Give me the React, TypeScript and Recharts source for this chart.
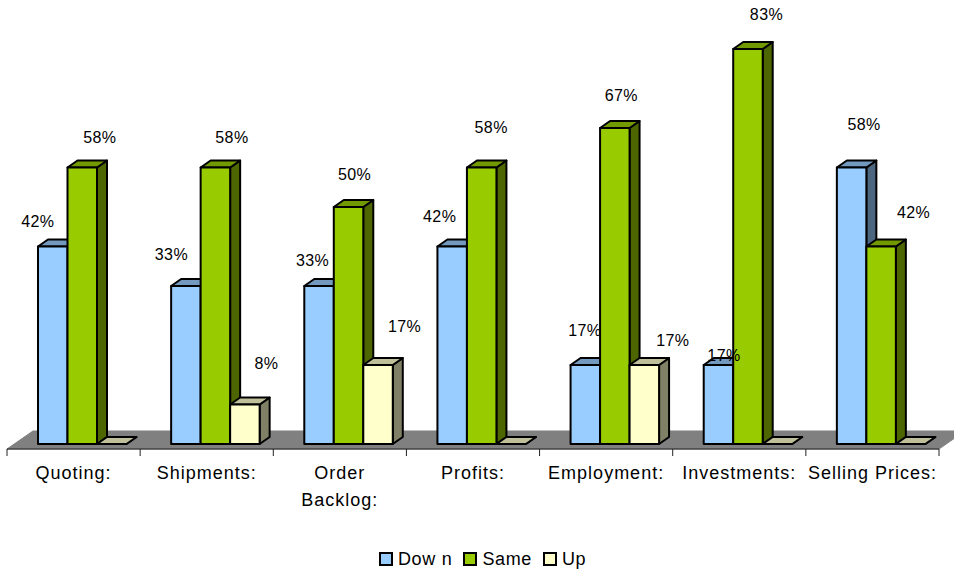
import React from 'react'
import { BarChart, Bar, XAxis, YAxis, Legend, LabelList, ReferenceArea } from 'recharts'

const categories = ['Quoting:', 'Shipments:', 'Order\nBacklog:', 'Profits:', 'Employment:', 'Investments:', 'Selling Prices:']
const downValues = [41.67, 33.33, 33.33, 41.67, 16.67, 16.67, 58.33]
const sameValues = [58.33, 58.33, 50, 58.33, 66.67, 83.33, 41.67]
const upValues = [0, 8.33, 16.67, 0, 16.67, 0, 0]

// hand placed label offsets from the top centre of each bar, the source chart scatters them
const downNudges = [[-15, -25], [-14.5, -32], [-6.5, -26], [-12.5, -30], [-0.5, -34], [5.5, -9], [12.5, -43]]
const sameNudges = [[17.5, -30], [16.5, -30], [6, -32], [9.5, -40], [6.5, -32], [18.5, -34], [32.5, -34]]
const upNudges = [[0, 0], [21.5, -41], [26.5, -38], [0, 0], [28.5, -24], [0, 0], [0, 0]]

const chartData = categories.map((name, i) => ({
  name,
  down: downValues[i],
  same: sameValues[i],
  up: upValues[i],
}))

const FONT = '"Liberation Sans", Arial, sans-serif'
const SHIFT = 9
const DEPTH_X = 10
const DEPTH_Y = 7

const makeBar = (side: string, top: string) => (props: any) => {
  const { y, width, height, fill } = props
  const x = props.x + SHIFT
  const line = { stroke: '#000', strokeWidth: 2, strokeLinejoin: 'round' as const }
  return (
    <g>
      <polygon
        points={`${x + width},${y} ${x + width + DEPTH_X},${y - DEPTH_Y} ${x + width + DEPTH_X},${y + height - DEPTH_Y} ${x + width},${y + height}`}
        fill={side}
        {...line}
      />
      <polygon
        points={`${x},${y} ${x + DEPTH_X},${y - DEPTH_Y} ${x + width + DEPTH_X},${y - DEPTH_Y} ${x + width},${y}`}
        fill={top}
        {...line}
      />
      {height > 0 && <rect x={x} y={y} width={width} height={height} fill={fill} {...line} />}
    </g>
  )
}

const makeLabel = (nudges: number[][]) => (props: any) => {
  const { x, y, width, value, index } = props
  if (!value) return null
  return (
    <text
      x={x + width / 2 + SHIFT + nudges[index][0]}
      y={y + nudges[index][1]}
      textAnchor="middle"
      dominantBaseline="central"
      fontFamily={FONT}
      fontSize={16}
      letterSpacing={0.4}
      fill="#000"
    >
      {Math.round(value)}%
    </text>
  )
}

const Floor = (props: any) => {
  const { x, y, width, height } = props
  return (
    <polygon
      points={`${x},${y + height} ${x + 26},${y} ${x + width + 26},${y} ${x + width},${y + height}`}
      fill="#808080"
      stroke="#808080"
    />
  )
}

const CategoryTick = (props: any) => {
  const { x, y, payload, index } = props
  const band = 932 / categories.length
  const lines = String(payload.value).split('\n')
  return (
    <g>
      <line x1={x - band / 2} x2={x - band / 2} y1={y} y2={y + 7} stroke="#222" />
      {index === categories.length - 1 && (
        <line x1={x + band / 2} x2={x + band / 2} y1={y} y2={y + 7} stroke="#222" />
      )}
      {lines.map((t, i) => (
        <text
          key={t}
          x={x}
          y={y + 24 + i * 27}
          textAnchor="middle"
          dominantBaseline="central"
          fontFamily={FONT}
          fontSize={18}
          letterSpacing={1}
          fill="#000"
        >
          {t}
        </text>
      ))}
    </g>
  )
}

const LegendRow = (props: any) => (
  <div
    style={{
      display: 'flex',
      alignItems: 'center',
      gap: 11,
      height: 20,
      paddingLeft: 372,
      transform: 'translateY(-2px)',
      fontFamily: FONT,
      fontSize: 18,
      letterSpacing: 0.6,
      color: '#000',
    }}
  >
    {props.payload.map((item: any) => (
      <span key={item.value} style={{ display: 'flex', alignItems: 'center', gap: 5 }}>
        <span
          style={{
            display: 'inline-block',
            boxSizing: 'border-box',
            width: 14,
            height: 14,
            background: item.color,
            border: '2px solid #000',
          }}
        />
        {/* the source renders a small gap before the last letter of Down */}
        <span>
          {item.value.slice(0, 3)}
          <span style={item.value === 'Down' ? { marginLeft: 6 } : undefined}>{item.value.slice(3)}</span>
        </span>
      </span>
    ))}
  </div>
)

export default function App() {
  return (
    <div style={{ position: 'absolute', left: 0, top: 0, width: 954, height: 571 }}>
      <BarChart
        width={954}
        height={571}
        data={chartData}
        barSize={29.5}
        barGap={0}
        margin={{ top: 15, right: 15, bottom: 0, left: 7 }}
      >
        <YAxis hide domain={[-1.05, 90.5]} />
        <ReferenceArea y1={-1.05} y2={2.75} shape={Floor} ifOverflow="visible" />
        <XAxis
          dataKey="name"
          height={102}
          interval={0}
          tick={CategoryTick}
          tickLine={false}
          tickSize={0}
          tickMargin={0}
          axisLine={{ stroke: '#222' }}
        />
        <Legend content={LegendRow} height={20} />
        <Bar dataKey="down" name="Down" fill="#99ccff" isAnimationActive={false} shape={makeBar('#4d6680', '#7399bf')}>
          <LabelList dataKey="down" content={makeLabel(downNudges)} />
        </Bar>
        <Bar dataKey="same" name="Same" fill="#99cc00" isAnimationActive={false} shape={makeBar('#4d6600', '#739900')}>
          <LabelList dataKey="same" content={makeLabel(sameNudges)} />
        </Bar>
        <Bar dataKey="up" name="Up" fill="#ffffcc" isAnimationActive={false} shape={makeBar('#808066', '#bfbf99')}>
          <LabelList dataKey="up" content={makeLabel(upNudges)} />
        </Bar>
      </BarChart>
    </div>
  )
}
